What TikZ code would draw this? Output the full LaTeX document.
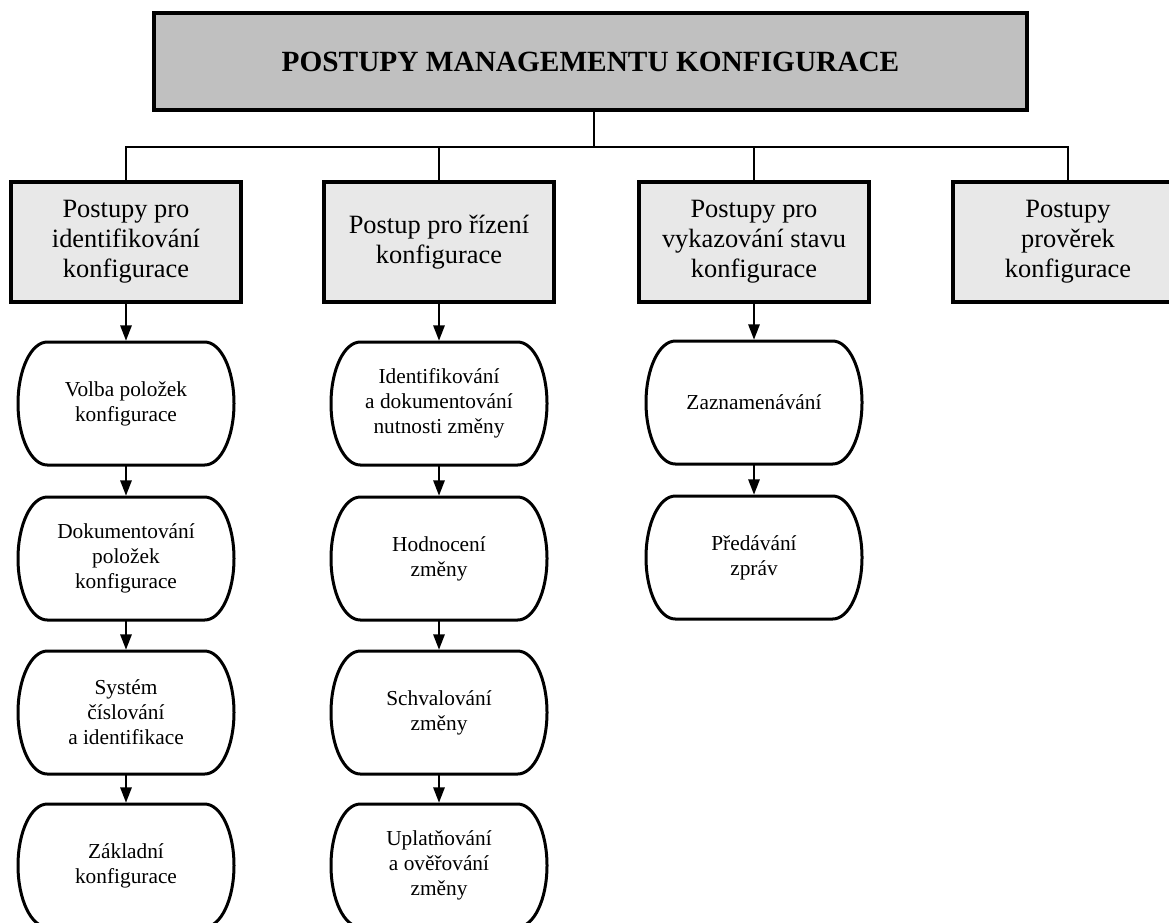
\documentclass[tikz,border=0pt]{standalone}
\usepackage{fontspec}
\setmainfont{Liberation Serif}
\usetikzlibrary{arrows.meta}
\definecolor{titlegray}{RGB}{192,192,192}
\definecolor{boxgray}{RGB}{232,232,232}
\begin{document}
\begin{tikzpicture}[x=0.75pt,y=-0.75pt,
  titlebox/.style={draw, line width=2.6pt, fill=titlegray, minimum width=654.75pt,
    minimum height=72.75pt, inner sep=0pt, outer sep=0pt,
    font=\bfseries\fontsize{22pt}{26pt}\selectfont},
  groupbox/.style={draw, line width=3pt, fill=boxgray, minimum width=172.5pt,
    minimum height=90pt, inner sep=0pt, outer sep=0pt, align=center,
    font=\fontsize{19.8pt}{22.5pt}\selectfont},
  stepnode/.style={minimum width=162pt, minimum height=92.25pt, inner sep=0pt,
    outer sep=0pt, align=center, font=\fontsize{16pt}{18.75pt}\selectfont},
  outline/.style={line width=2.25pt, line join=round},
  link/.style={line width=1.5pt},
  flow/.style={line width=1.5pt, -{Triangle[width=8.5pt,length=11.5pt]}, shorten >=1pt},
]
\useasboundingbox (0,0) rectangle (1169,922);
\clip (0,0) rectangle (1169,922);

% top level
\node[titlebox] (title) at (590.5,61.5) {POSTUPY MANAGEMENTU KONFIGURACE};
\coordinate (hub) at (594,147);

% four groups of procedures
\node[groupbox] (g1) at (126,242) {Postupy pro\\identifikování\\konfigurace};
\node[groupbox] (g2) at (439,242) {Postup pro řízení\\konfigurace};
\node[groupbox] (g3) at (754,242) {Postupy pro\\vykazování stavu\\konfigurace};
\node[groupbox] (g4) at (1068,242) {Postupy\\prověrek\\konfigurace};

% steps, column 1
\node[stepnode] (a1) at (126,403.5) {Volba položek\\konfigurace};
\node[stepnode] (a2) at (126,558.5) {Dokumentování\\položek\\konfigurace};
\node[stepnode] (a3) at (126,712.5) {Systém\\číslování\\a identifikace};
\node[stepnode] (a4) at (126,865.5) {Základní\\konfigurace};

% steps, column 2
\node[stepnode] (b1) at (439,403.5) {Identifikování\\a dokumentování\\nutnosti změny};
\node[stepnode] (b2) at (439,558.5) {Hodnocení\\změny};
\node[stepnode] (b3) at (439,712.5) {Schvalování\\změny};
\node[stepnode] (b4) at (439,865.5) {Uplatňování\\a ověřování\\změny};

% steps, column 3
\node[stepnode] (c1) at (754,402.5) {Zaznamenávání};
\node[stepnode] (c2) at (754,557.5) {Předávání\\zpráv};

% stadium outlines of the steps
\foreach \n in {a1,a2,a3,a4,b1,b2,b3,b4,c1,c2} {
  \draw[outline] ([xshift=22pt]\n.north west) -- ([xshift=-22pt]\n.north east)
    arc[start angle=90, end angle=-90, x radius=22pt, y radius=46.125pt]
    -- ([xshift=22pt]\n.south west)
    arc[start angle=270, end angle=90, x radius=22pt, y radius=46.125pt] -- cycle;
}

% tree connectors
\draw[link] (title.south -| hub) -- (hub);
\draw[link] (g1.north) -- (g1.north |- hub) -- (g4.north |- hub) -- (g4.north);
\draw[link] (g2.north) -- (g2.north |- hub);
\draw[link] (g3.north) -- (g3.north |- hub);

% flow arrows
\draw[flow] (g1.south) -- (a1.north);
\draw[flow] (a1.south) -- (a2.north);
\draw[flow] (a2.south) -- (a3.north);
\draw[flow] (a3.south) -- (a4.north);
\draw[flow] (g2.south) -- (b1.north);
\draw[flow] (b1.south) -- (b2.north);
\draw[flow] (b2.south) -- (b3.north);
\draw[flow] (b3.south) -- (b4.north);
\draw[flow] (g3.south) -- (c1.north);
\draw[flow] (c1.south) -- (c2.north);
\end{tikzpicture}
\end{document}
